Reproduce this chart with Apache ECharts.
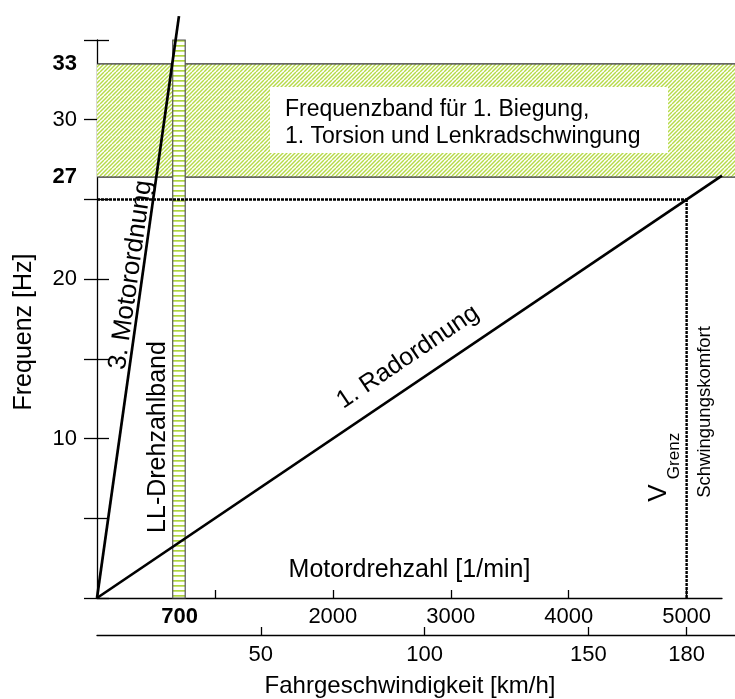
<!DOCTYPE html>
<html><head><meta charset="utf-8">
<script src="https://cdn.jsdelivr.net/npm/echarts@6/dist/echarts.min.js"></script>
<style>html,body{margin:0;padding:0;background:#fff}#c{width:735px;height:699px}</style>
</head><body><div id="c"></div>
<script>
// ---- data ----
const rpmTicks = [700, 1000, 2000, 3000, 4000, 5000];
const rpmLabels = [700, 2000, 3000, 4000, 5000];
const kmhTicks = [50, 100, 150, 180];
const kmhLabels = [50, 100, 150, 180];
const freqTicks = [0, 5, 10, 15, 20, 25, 30, 35];
const freqLabels = [10, 20, 30];
const bandEdges = [26.4, 33.5];          // Frequenzband edges as drawn
const bandEdgeLabels = ['27', '33'];
const bandRpm = [0, 5420];
const llBandRpm = [642, 748];
const llBandFreq = [0, 35];
const motorOrder3 = [[0, 0], [695, 36.5]];
const wheelOrder1 = [[0, 0], [5300, 26.5]];
const limitH = [[0, 25], [5000, 25]];
const limitV = [[5000, 0], [5000, 25]];
const rpmMax = 5300, freqMax = 35;
const rpmRef = 5000, kmhRef = 180;       // 180 km/h at 5000 1/min

// ---- layout ----
const FONT = '"Liberation Sans", Arial, sans-serif';
const gl = 97, gr = 722, gt = 40, gb = 598, W = 735;
const kmhMax = rpmMax * ((W - gl) / (gr - gl)) * kmhRef / rpmRef;

function hatchCanvas() {
  const c = document.createElement('canvas'); c.width = 8; c.height = 8;
  const g = c.getContext('2d');
  g.fillStyle = '#ffffff'; g.fillRect(0, 0, 8, 8);
  g.strokeStyle = '#b6da48'; g.lineWidth = 1.4;
  for (let k = -8; k <= 16; k += 4) { g.beginPath(); g.moveTo(k, 8); g.lineTo(k + 8, 0); g.stroke(); }
  return c;
}
function stripeCanvas() {
  const c = document.createElement('canvas'); c.width = 4; c.height = 5;
  const g = c.getContext('2d');
  g.fillStyle = '#fff'; g.fillRect(0, 0, 4, 5);
  g.fillStyle = '#b0d640'; g.fillRect(0, 0, 4, 1.7);
  return c;
}
const hatch = { image: hatchCanvas(), repeat: 'repeat' };
const stripes = { image: stripeCanvas(), repeat: 'repeat' };

const chart = echarts.init(document.getElementById('c'), null, { renderer: 'canvas' });
const txt = { color: '#000', fontFamily: FONT };

const option = {
  animation: false,
  backgroundColor: '#fff',
  grid: [
    { left: gl, top: gt, width: gr - gl, height: gb - gt },
    { left: gl, right: 0, top: 600, height: 36 }
  ],
  xAxis: [
    {
      gridIndex: 0, type: 'value', min: 0, max: rpmMax, position: 'bottom',
      axisLine: { show: true, lineStyle: { color: '#000', width: 1.3 } },
      axisTick: { show: true, inside: true, length: 8, customValues: rpmTicks, lineStyle: { color: '#000', width: 1.3 } },
      axisLabel: {
        customValues: rpmLabels, margin: 8, fontSize: 22, ...txt,
        formatter: v => v === 700 ? '{b|700}' : String(v),
        rich: { b: { fontWeight: 'bold', fontSize: 22, ...txt } }
      },
      splitLine: { show: false },
      name: 'Motordrehzahl [1/min]', nameLocation: 'middle', nameGap: -40,
      nameTextStyle: { fontSize: 25, ...txt }
    },
    {
      gridIndex: 1, type: 'value', min: 0, max: kmhMax, position: 'bottom',
      axisLine: { show: true, lineStyle: { color: '#000', width: 1.4 } },
      axisTick: { show: true, inside: true, length: 8, customValues: kmhTicks, lineStyle: { color: '#000', width: 1.3 } },
      axisLabel: { customValues: kmhLabels, margin: 9, fontSize: 22, ...txt },
      splitLine: { show: false },
      name: 'Fahrgeschwindigkeit [km/h]', nameLocation: 'middle', nameGap: 39,
      nameTextStyle: { fontSize: 24, ...txt, padding: [0, 12, 0, 0] }
    }
  ],
  yAxis: [
    {
      gridIndex: 0, type: 'value', min: 0, max: freqMax, position: 'left',
      axisLine: { show: true, lineStyle: { color: '#000', width: 1.3 } },
      axisTick: { show: true, inside: true, length: 12, customValues: freqTicks, lineStyle: { color: '#000', width: 1.3 } },
      axisLabel: { customValues: freqLabels, margin: 20, fontSize: 22, ...txt },
      splitLine: { show: false },
      name: 'Frequenz [Hz]', nameLocation: 'middle', nameGap: 60,
      nameTextStyle: { fontSize: 25, ...txt, padding: [0, 26, 0, 0] }
    },
    {
      gridIndex: 0, type: 'value', min: 0, max: freqMax, position: 'left',
      axisLine: { show: false },
      axisTick: { show: true, inside: false, length: 13, customValues: freqTicks, lineStyle: { color: '#000', width: 1.3 } },
      axisLabel: {
        customValues: bandEdges, margin: 20, fontSize: 22, fontWeight: 'bold', ...txt,
        formatter: v => bandEdgeLabels[bandEdges.indexOf(v)]
      },
      splitLine: { show: false }
    },
    { gridIndex: 1, type: 'value', show: false, min: 0, max: 1 }
  ],
  series: [
    {
      type: 'custom', xAxisIndex: 0, yAxisIndex: 0, clip: false, z: 1, silent: true,
      data: [[bandRpm[0], bandRpm[1], bandEdges[0], bandEdges[1]]],
      renderItem(params, api) {
        const p0 = api.coord([api.value(0), api.value(3)]);
        const p1 = api.coord([api.value(1), api.value(2)]);
        return { type: 'group', children: [
          { type: 'rect', shape: { x: p0[0], y: p0[1], width: p1[0] - p0[0], height: p1[1] - p0[1] }, style: { fill: hatch } },
          { type: 'line', shape: { x1: p0[0], y1: p0[1], x2: p1[0], y2: p0[1] }, style: { stroke: '#333', lineWidth: 1.3 } },
          { type: 'line', shape: { x1: p0[0], y1: p1[1], x2: p1[0], y2: p1[1] }, style: { stroke: '#333', lineWidth: 1.3 } }
        ] };
      }
    },
    {
      type: 'custom', xAxisIndex: 0, yAxisIndex: 0, clip: false, z: 2, silent: true,
      data: [[llBandRpm[0], llBandRpm[1], llBandFreq[0], llBandFreq[1]]],
      renderItem(params, api) {
        const p0 = api.coord([api.value(0), api.value(3)]);
        const p1 = api.coord([api.value(1), api.value(2)]);
        return { type: 'rect', shape: { x: p0[0], y: p0[1], width: p1[0] - p0[0], height: p1[1] - p0[1] },
          style: { fill: stripes, stroke: '#555', lineWidth: 1.2 } };
      }
    },
    { type: 'line', data: limitH, symbol: 'none', z: 3, silent: true, clip: false,
      lineStyle: { color: '#000', width: 2.4, type: [3, 1] } },
    { type: 'line', data: limitV, symbol: 'none', z: 3, silent: true, clip: false,
      lineStyle: { color: '#000', width: 2.4, type: [3, 1] } },
    { type: 'line', data: motorOrder3, symbol: 'none', z: 4, silent: true, clip: false,
      lineStyle: { color: '#000', width: 2.7 } },
    { type: 'line', data: wheelOrder1, symbol: 'none', z: 4, silent: true, clip: false,
      lineStyle: { color: '#000', width: 2.7 } }
  ],
  graphic: [
    { type: 'rect', z: 10, shape: { x: 270, y: 87, width: 398, height: 66 }, style: { fill: '#fff' } },
    { type: 'text', z: 11, x: 285, y: 110, style: { text: 'Frequenzband für 1. Biegung,', fontSize: 23, fontFamily: FONT, fill: '#000', align: 'left', verticalAlign: 'middle' } },
    { type: 'text', z: 11, x: 285, y: 137, style: { text: '1. Torsion und Lenkradschwingung', fontSize: 23, fontFamily: FONT, fill: '#000', align: 'left', verticalAlign: 'middle' } },
    { type: 'text', z: 11, x: 158, y: 437, rotation: Math.PI / 2, style: { text: 'LL-Drehzahlband', fontSize: 25, fontFamily: FONT, fill: '#000', align: 'center', verticalAlign: 'middle' } },
    { type: 'text', z: 11, x: 131, y: 275, rotation: 82 * Math.PI / 180, style: { text: '3. Motorordnung', fontSize: 26, fontFamily: FONT, fill: '#000', align: 'center', verticalAlign: 'middle' } },
    { type: 'text', z: 11, x: 408, y: 357, rotation: 34 * Math.PI / 180, style: { text: '1. Radordnung', fontSize: 25, fontFamily: FONT, fill: '#000', align: 'center', verticalAlign: 'middle' } },
    { type: 'text', z: 11, x: 659, y: 493, rotation: Math.PI / 2, style: { text: 'V', fontSize: 26, fontFamily: FONT, fill: '#000', align: 'center', verticalAlign: 'middle' } },
    { type: 'text', z: 11, x: 674, y: 456, rotation: Math.PI / 2, style: { text: 'Grenz', fontSize: 17, fontFamily: FONT, fill: '#000', align: 'center', verticalAlign: 'middle' } },
    { type: 'text', z: 11, x: 705, y: 412, rotation: Math.PI / 2, style: { text: 'Schwingungskomfort', fontSize: 18.5, fontFamily: FONT, fill: '#000', align: 'center', verticalAlign: 'middle' } }
  ]
};
chart.setOption(option);
</script>
</body></html>
